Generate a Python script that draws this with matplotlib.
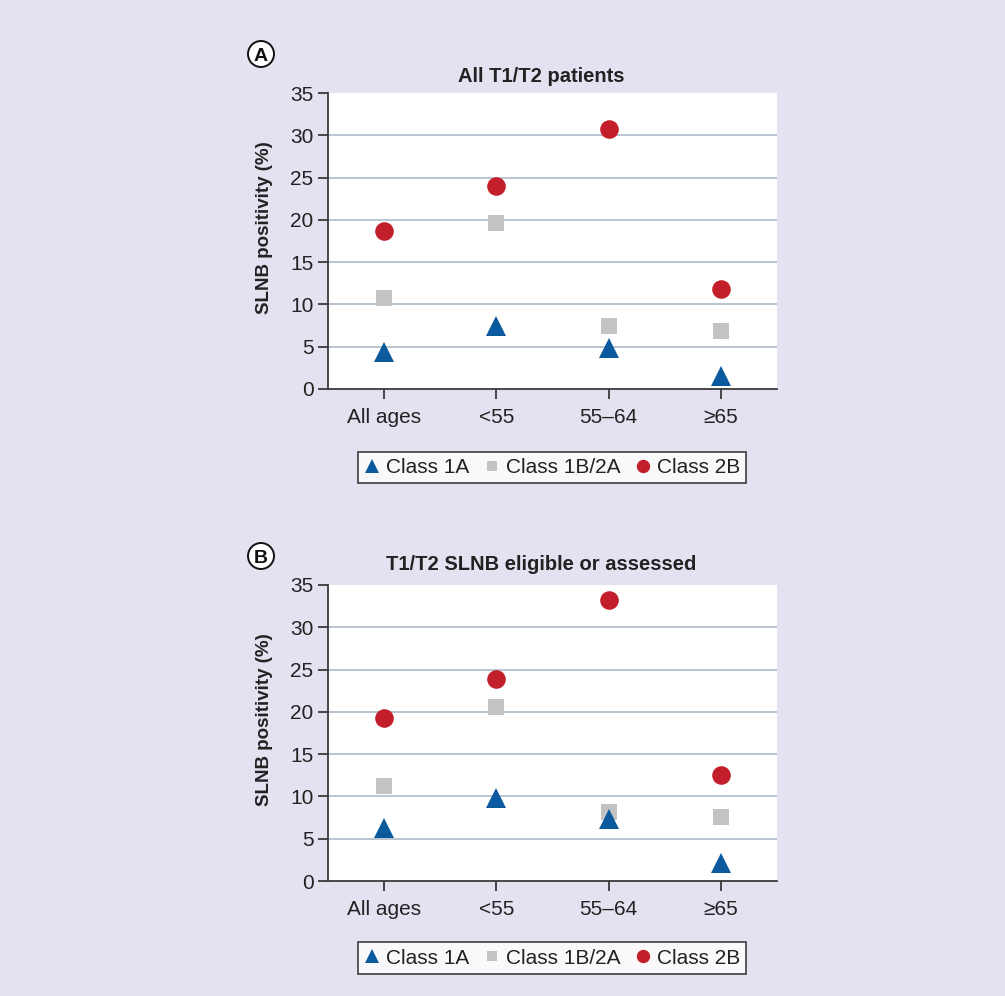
import matplotlib
matplotlib.use("Agg")
import matplotlib.pyplot as plt
from matplotlib.lines import Line2D
from matplotlib.patches import Ellipse

plt.rcParams['font.family'] = ['Liberation Sans', 'DejaVu Sans']

categories = ["All ages", "<55", "55\u201364", "\u226565"]
series_names = ["Class 1A", "Class 1B/2A", "Class 2B"]

# Panel A: All T1/T2 patients
a_class1a = [4.4, 7.5, 4.9, 1.5]
a_class1b2a = [10.8, 19.6, 7.5, 6.9]
a_class2b = [18.7, 24.0, 30.7, 11.8]

# Panel B: T1/T2 SLNB eligible or assessed
b_class1a = [6.3, 9.8, 7.3, 2.1]
b_class1b2a = [11.2, 20.6, 8.1, 7.6]
b_class2b = [19.3, 23.9, 33.2, 12.5]

yticks = [0, 5, 10, 15, 20, 25, 30, 35]

BG = "#e5e1f0"
BLUE = "#0c5a9e"
GREY = "#c3c3c3"
RED = "#c31f2b"

W, H = 1005, 996
fig = plt.figure(figsize=(W / 100, H / 100), dpi=100, facecolor=BG)

def fx(px):
    return px / W

def fy(py):
    return 1 - py / H

# marker, colour, size, zorder, legend size
styles = [("^", BLUE, 14.4, 5, 10.5), ("s", GREY, 11.0, 4, 7.8), ("o", RED, 13.4, 3, 9.6)]

AX_L, AX_R = 328, 777

def panel(top_px, bottom_px, data, title, letter, title_y, letter_y, legend_y):
    ax = fig.add_axes([fx(AX_L), fy(bottom_px), fx(AX_R) - fx(AX_L), fy(top_px) - fy(bottom_px)])
    ax.set_facecolor("white")
    x = list(range(len(categories)))
    for (m, c, s, z, ls), vals in zip(styles, data):
        ax.plot(x, vals, linestyle="none", marker=m, color=c, markersize=s,
                markeredgewidth=0, zorder=z, clip_on=False)
    ax.set_xlim(-0.5, 3.5)
    ax.set_ylim(0, 35)
    ax.set_xticks(x)
    ax.set_xticklabels(categories)
    ax.set_yticks(yticks)
    for yv in yticks[1:-1]:
        ax.axhline(yv, color="#aebbcb", linewidth=1.2, zorder=1)
    for sp in ["top", "right"]:
        ax.spines[sp].set_visible(False)
    for sp in ["left", "bottom"]:
        ax.spines[sp].set_color("#3a3a3a")
        ax.spines[sp].set_linewidth(1.3)
    ax.tick_params(axis="both", direction="out", length=7.5, width=1.3,
                   color="#3a3a3a", labelsize=15, labelcolor="#222222")
    ax.tick_params(axis="y", pad=3)
    ax.tick_params(axis="x", pad=6)
    ax.set_ylabel("SLNB positivity (%)", fontsize=13.5, fontweight="bold", color="#222222")
    ax.yaxis.set_label_coords((273 - AX_L) / (AX_R - AX_L),
                              (bottom_px - (top_px + 135)) / (bottom_px - top_px))
    fig.text(fx(541), fy(title_y), title, ha="center", va="center",
             fontsize=14.5, fontweight="bold", color="#222222")
    # circled panel letter
    fig.add_artist(Ellipse((fx(261), fy(letter_y)), 26 / W, 26 / H,
                           facecolor="white", edgecolor="#111111", linewidth=1.4))
    fig.text(fx(261), fy(letter_y) - 0.5 / H, letter, ha="center", va="center_baseline",
             fontsize=14, fontweight="bold", color="#111111")
    handles = [Line2D([], [], linestyle="none", marker=m, color=c,
                      markersize=ls, markeredgewidth=0)
               for (m, c, s, z, ls) in styles]
    leg = fig.legend(handles, series_names, loc="center",
                     bbox_to_anchor=(fx(552), fy(legend_y)),
                     ncol=3, frameon=True, fancybox=False, fontsize=15,
                     handlelength=0.8, handletextpad=0.25, columnspacing=0.7,
                     borderpad=0.3, borderaxespad=0)
    leg.get_frame().set_edgecolor("#111111")
    leg.get_frame().set_linewidth(1.2)
    leg.get_frame().set_facecolor("white")
    for t in leg.get_texts():
        t.set_color("#222222")
    return ax

panel(93, 389, [a_class1a, a_class1b2a, a_class2b], "All T1/T2 patients", "A", 76, 54, 467.5)
panel(585, 881, [b_class1a, b_class1b2a, b_class2b], "T1/T2 SLNB eligible or assessed", "B", 565, 556, 958)

fig.savefig("out.png", dpi=100, facecolor=BG)
